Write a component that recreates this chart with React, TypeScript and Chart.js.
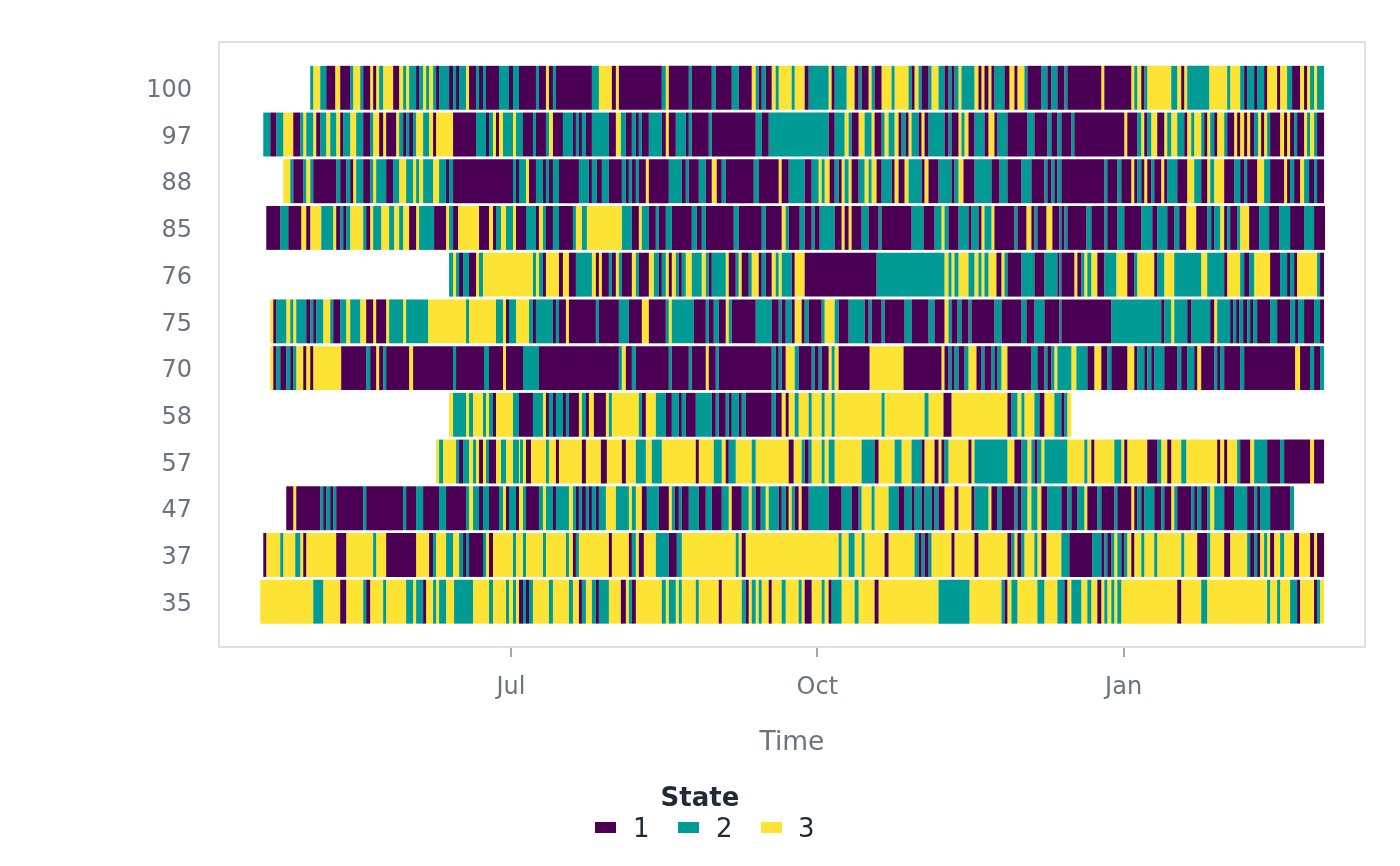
import { useEffect, useRef } from "react";
import Chart from "chart.js/auto";

// rows, top to bottom
const rowLabels = ["100", "97", "88", "85", "76", "75", "70", "58", "57", "47", "37", "35"];
const stateNames = ["1", "2", "3"];
const stateColors = ["#4B0055", "#009B95", "#FDE333"];

// x axis: days counted from 1 July
const tickDays = [0, 92, 184];
const tickLabels = ["Jul", "Oct", "Jan"];

// each run: [start day, state]; a run lasts until the next one starts
const runs100: [number, number][] = [
  [-60.3, 2], [-59.4, 3], [-57.3, 2], [-55.5, 1], [-52.8, 3], [-51.3, 1], [-48.3, 2], [-47.4, 3], [-45.3, 2], [-44.4, 1],
  [-42.3, 3], [-41.4, 1], [-40.5, 3], [-39.6, 2], [-38.4, 3], [-35.4, 1], [-33.6, 3], [-32.4, 2], [-31.5, 3], [-30.6, 2],
  [-28.5, 1], [-27.6, 2], [-26.4, 3], [-25.5, 2], [-24.6, 3], [-23.4, 2], [-22.5, 1], [-21.6, 2], [-18.6, 1], [-17.4, 2],
  [-16.5, 1], [-15.6, 2], [-13.5, 3], [-12.6, 1], [-10.5, 2], [-9.6, 1], [-8.4, 2], [-7.5, 1], [-3.6, 2], [-0.6, 1],
  [0.6, 2], [2.4, 1], [7.5, 2], [8.4, 1], [10.5, 3], [11.4, 1], [12.6, 2], [13.5, 1], [24.3, 2], [26.4, 3],
  [30.3, 1], [31.5, 3], [32.4, 1], [45.3, 2], [46.5, 3], [47.4, 1], [53.4, 2], [54.3, 1], [60.3, 2], [61.5, 1],
  [66.3, 2], [68.4, 1], [72.3, 3], [73.5, 2], [74.4, 1], [75.3, 2], [76.5, 1], [78.3, 3], [79.5, 2], [80.4, 3],
  [84.3, 2], [85.2, 3], [88.2, 1], [89.4, 2], [95.4, 3], [96.3, 1], [97.2, 2], [100.8, 3], [103.2, 1], [104.4, 2],
  [105.3, 1], [107.4, 3], [108.3, 2], [109.2, 1], [111.3, 3], [114.3, 2], [115.2, 3], [119.4, 2], [120.3, 1], [121.2, 3],
  [122.4, 2], [123.3, 1], [125.4, 2], [126.3, 3], [128.4, 2], [130.2, 1], [131.4, 2], [132.3, 1], [133.2, 2], [134.4, 3],
  [135.3, 2], [139.2, 3], [140.4, 1], [141.3, 3], [142.2, 1], [143.4, 3], [144.3, 1], [145.2, 2], [148.2, 1], [149.7, 3],
  [151.2, 1], [152.1, 3], [154.2, 2], [155.1, 1], [159.3, 2], [161.1, 1], [162.3, 2], [164.1, 1], [166.2, 2], [167.1, 1],
  [177.3, 3], [178.2, 1], [186.3, 3], [187.2, 2], [188.1, 3], [189.3, 1], [190.2, 2], [191.1, 3], [198.3, 2], [200.1, 3],
  [201.3, 1], [202.2, 3], [203.1, 2], [209.7, 3], [215.1, 2], [216.0, 3], [219.0, 2], [220.2, 1], [221.1, 2], [223.2, 1],
  [224.1, 2], [226.2, 1], [227.1, 3], [230.1, 1], [231.0, 3], [233.1, 2], [234.6, 1], [237.0, 3], [238.2, 1], [239.1, 3],
  [240.0, 2], [241.2, 3], [242.1, 2],
];

const runs97: [number, number][] = [
  [-74.4, 2], [-72.3, 1], [-70.5, 2], [-68.4, 3], [-65.4, 1], [-63.3, 2], [-62.4, 3], [-61.5, 2], [-59.4, 3], [-58.5, 1],
  [-57.3, 2], [-55.5, 3], [-54.3, 2], [-52.5, 3], [-51.3, 1], [-50.4, 2], [-48.3, 3], [-46.5, 2], [-44.4, 1], [-42.3, 2],
  [-41.4, 3], [-39.6, 1], [-38.4, 3], [-37.5, 1], [-34.5, 3], [-33.6, 2], [-32.4, 1], [-31.5, 2], [-30.6, 1], [-29.4, 2],
  [-28.5, 3], [-26.4, 2], [-24.6, 3], [-23.4, 1], [-22.5, 3], [-17.4, 1], [-10.5, 2], [-7.5, 1], [-6.6, 2], [-5.4, 3],
  [-4.5, 1], [-3.6, 3], [-2.4, 2], [0.6, 3], [1.5, 2], [3.6, 1], [6.6, 2], [7.5, 1], [10.5, 2], [11.4, 3],
  [12.6, 1], [15.6, 2], [18.6, 1], [19.5, 2], [20.4, 1], [21.3, 2], [22.5, 1], [24.3, 2], [29.4, 1], [31.5, 3],
  [33.0, 2], [34.5, 1], [36.3, 2], [37.5, 1], [38.4, 2], [39.3, 1], [41.4, 2], [45.3, 1], [46.5, 3], [47.4, 1],
  [49.5, 2], [52.5, 1], [53.4, 2], [54.3, 1], [59.4, 2], [60.3, 1], [73.5, 2], [75.3, 1], [77.4, 2], [95.4, 1],
  [97.2, 2], [100.2, 3], [101.4, 2], [102.3, 1], [104.4, 3], [106.2, 2], [108.3, 3], [109.2, 1], [111.3, 2], [112.2, 3],
  [113.4, 2], [115.2, 3], [116.4, 1], [117.3, 2], [118.5, 1], [119.4, 3], [120.3, 2], [122.4, 1], [123.3, 3], [124.2, 1],
  [125.4, 2], [130.2, 1], [131.4, 2], [132.3, 1], [134.4, 3], [135.3, 2], [136.2, 3], [137.4, 1], [139.2, 2], [142.2, 1],
  [143.4, 3], [145.2, 1], [146.1, 2], [149.1, 1], [155.1, 2], [157.2, 1], [161.1, 2], [162.3, 1], [164.1, 2], [165.3, 1],
  [168.3, 2], [169.2, 1], [184.2, 3], [185.1, 1], [188.1, 2], [189.3, 3], [190.2, 1], [191.1, 2], [192.3, 3], [194.1, 1],
  [196.2, 3], [197.1, 2], [198.3, 3], [200.1, 2], [202.2, 1], [203.1, 3], [204.3, 2], [205.2, 3], [207.3, 2], [208.2, 1],
  [209.1, 3], [210.0, 2], [211.2, 1], [212.1, 3], [214.2, 2], [215.1, 1], [217.2, 3], [218.1, 1], [219.0, 3], [220.2, 1],
  [221.1, 3], [222.0, 1], [223.2, 2], [224.4, 3], [225.3, 1], [226.2, 3], [227.1, 2], [228.0, 1], [231.0, 3], [232.2, 1],
  [233.1, 3], [234.0, 1], [235.2, 2], [236.1, 1], [238.2, 3], [239.1, 2], [240.0, 3], [241.2, 2], [242.1, 1],
];

const runs88: [number, number][] = [
  [-68.4, 3], [-66.3, 2], [-65.4, 1], [-62.4, 2], [-61.5, 3], [-60.3, 2], [-59.4, 1], [-52.5, 2], [-51.3, 1], [-49.5, 2],
  [-48.3, 1], [-47.4, 3], [-46.5, 2], [-44.4, 1], [-42.3, 2], [-41.4, 3], [-40.5, 2], [-37.5, 1], [-35.4, 2], [-33.6, 3],
  [-31.5, 2], [-29.4, 3], [-28.5, 2], [-27.6, 3], [-26.4, 2], [-23.4, 3], [-21.6, 2], [-19.5, 1], [-18.6, 2], [-17.4, 1],
  [0.6, 2], [1.5, 1], [2.4, 2], [4.5, 3], [5.4, 1], [7.5, 2], [9.6, 1], [10.5, 2], [11.4, 1], [12.6, 2],
  [14.4, 1], [20.4, 2], [23.4, 1], [24.3, 2], [25.8, 1], [27.3, 2], [29.4, 1], [33.3, 2], [34.5, 1], [35.4, 2],
  [36.3, 1], [37.5, 2], [38.4, 1], [40.5, 3], [41.4, 1], [47.4, 2], [51.3, 1], [52.5, 2], [53.4, 1], [56.4, 2],
  [58.5, 1], [60.3, 3], [61.8, 1], [63.3, 2], [64.5, 1], [72.9, 2], [74.4, 1], [80.4, 3], [81.3, 1], [83.4, 2],
  [88.2, 1], [90.3, 2], [92.4, 3], [93.3, 2], [94.2, 3], [95.7, 1], [97.2, 2], [98.4, 1], [99.3, 3], [100.2, 2],
  [101.4, 3], [102.3, 1], [104.4, 2], [106.2, 3], [107.4, 2], [108.3, 3], [109.8, 1], [111.3, 2], [114.3, 1], [115.2, 3],
  [116.4, 1], [118.2, 3], [119.4, 2], [123.3, 1], [124.2, 3], [125.4, 1], [128.4, 2], [132.3, 1], [133.2, 2], [134.4, 3],
  [135.9, 1], [139.2, 2], [144.3, 1], [146.7, 2], [149.1, 1], [153.3, 2], [156.3, 1], [160.2, 2], [161.1, 1], [162.3, 2],
  [163.2, 1], [164.1, 2], [165.3, 1], [178.2, 2], [179.1, 1], [182.1, 2], [183.3, 1], [186.3, 3], [187.2, 1], [188.1, 2],
  [189.3, 1], [190.2, 3], [191.1, 1], [192.3, 2], [193.2, 1], [195.3, 3], [196.2, 1], [197.1, 2], [200.1, 1], [203.1, 3],
  [205.2, 2], [207.3, 1], [209.1, 3], [210.0, 2], [211.2, 3], [214.2, 1], [217.2, 2], [219.0, 1], [220.2, 2], [221.1, 1],
  [224.1, 3], [226.2, 2], [228.0, 1], [232.2, 3], [233.1, 1], [234.0, 2], [235.2, 1], [237.0, 3], [238.2, 2], [239.7, 1],
  [241.2, 2], [242.1, 1],
];

const runs85: [number, number][] = [
  [-73.5, 1], [-69.3, 2], [-66.9, 1], [-63.0, 3], [-61.5, 1], [-60.3, 3], [-57.0, 2], [-53.4, 3], [-52.5, 1], [-51.3, 2],
  [-50.4, 1], [-49.5, 2], [-48.3, 3], [-44.4, 2], [-43.5, 1], [-42.3, 3], [-41.4, 2], [-39.0, 3], [-36.6, 2], [-35.1, 3],
  [-33.6, 2], [-32.4, 3], [-30.6, 1], [-28.5, 3], [-27.6, 2], [-23.1, 1], [-19.5, 3], [-18.6, 2], [-17.4, 1], [-15.9, 3],
  [-9.6, 1], [-6.6, 3], [-5.4, 1], [-4.5, 2], [-3.0, 3], [-1.5, 2], [0.6, 3], [1.5, 1], [4.5, 2], [7.5, 1],
  [8.4, 3], [9.6, 2], [10.5, 1], [12.6, 2], [14.4, 1], [18.6, 2], [19.5, 3], [21.3, 2], [22.8, 3], [33.3, 2],
  [36.3, 1], [38.4, 3], [39.3, 2], [41.4, 1], [43.5, 2], [44.4, 1], [46.5, 2], [48.3, 1], [54.3, 2], [55.8, 1],
  [57.3, 2], [58.5, 1], [66.9, 2], [68.4, 1], [75.3, 2], [76.5, 1], [81.3, 3], [82.5, 2], [83.4, 1], [86.7, 2],
  [88.2, 1], [90.3, 2], [91.2, 1], [92.7, 2], [97.2, 1], [99.3, 3], [100.2, 1], [101.4, 3], [102.3, 1], [105.3, 2],
  [107.4, 1], [110.4, 2], [111.3, 1], [120.3, 2], [123.9, 1], [127.2, 2], [129.3, 3], [130.2, 2], [131.4, 1], [134.4, 2],
  [137.4, 1], [138.3, 2], [140.4, 1], [141.3, 3], [142.2, 2], [144.3, 3], [145.2, 1], [151.2, 2], [152.1, 1], [154.8, 3],
  [156.3, 1], [157.2, 2], [158.1, 1], [160.8, 3], [162.6, 1], [164.7, 2], [165.3, 1], [166.2, 2], [167.1, 1], [172.8, 2],
  [174.3, 1], [178.2, 2], [179.1, 1], [182.1, 2], [184.2, 1], [189.3, 2], [192.6, 1], [194.1, 2], [197.1, 1], [199.2, 2],
  [200.7, 1], [202.8, 3], [205.8, 1], [209.1, 2], [210.3, 1], [211.2, 2], [213.0, 3], [214.2, 1], [215.1, 2], [216.0, 1],
  [218.1, 2], [219.0, 3], [221.7, 1], [224.7, 2], [227.7, 1], [230.7, 2], [234.0, 1], [238.2, 2], [241.2, 1],
];

const runs76: [number, number][] = [
  [-18.6, 2], [-17.4, 3], [-16.5, 2], [-15.6, 1], [-14.4, 2], [-12.6, 1], [-10.5, 3], [-9.6, 2], [-8.4, 3], [6.6, 2],
  [7.5, 3], [8.4, 2], [9.6, 1], [10.5, 3], [14.4, 1], [15.6, 3], [17.4, 1], [19.5, 2], [24.3, 3], [25.5, 1],
  [26.4, 3], [27.3, 1], [29.4, 2], [30.3, 1], [31.5, 3], [32.4, 2], [33.3, 1], [36.3, 3], [37.5, 2], [38.4, 1],
  [41.4, 3], [42.9, 2], [44.4, 1], [45.3, 2], [46.5, 3], [47.4, 1], [48.3, 3], [49.5, 2], [50.4, 1], [51.3, 2],
  [52.5, 3], [54.3, 2], [57.3, 3], [58.5, 2], [59.4, 1], [60.3, 2], [64.5, 3], [65.4, 1], [67.5, 2], [68.4, 3],
  [69.3, 1], [71.4, 2], [72.3, 3], [74.4, 1], [75.3, 2], [76.5, 1], [78.3, 3], [79.5, 2], [80.4, 3], [81.3, 2],
  [84.3, 1], [85.2, 3], [88.2, 1], [109.8, 2], [130.2, 3], [131.4, 2], [132.3, 3], [133.2, 2], [134.4, 3], [137.4, 2],
  [139.2, 3], [140.4, 2], [141.3, 3], [142.2, 2], [143.4, 3], [145.8, 1], [147.3, 3], [148.2, 2], [149.1, 1], [153.3, 2],
  [157.2, 1], [160.2, 2], [164.1, 1], [164.7, 2], [165.3, 1], [169.2, 3], [170.1, 1], [171.3, 2], [172.2, 3], [173.1, 2],
  [174.3, 3], [176.1, 1], [178.2, 2], [181.8, 3], [185.1, 1], [187.2, 2], [188.1, 3], [193.2, 1], [194.1, 2], [196.2, 3],
  [199.2, 2], [207.3, 3], [209.1, 2], [214.2, 1], [215.1, 3], [219.0, 2], [220.2, 1], [221.7, 2], [223.2, 3], [228.0, 1],
  [231.0, 2], [233.1, 1], [234.0, 2], [235.2, 1], [236.1, 3], [242.1, 2], [243.0, 1],
];

const runs75: [number, number][] = [
  [-72.3, 3], [-71.4, 1], [-70.5, 2], [-67.5, 3], [-66.3, 2], [-65.4, 3], [-64.5, 2], [-61.5, 1], [-60.3, 2], [-59.4, 1],
  [-58.5, 2], [-56.4, 3], [-54.3, 2], [-53.4, 1], [-51.3, 2], [-49.5, 3], [-48.3, 2], [-45.3, 3], [-43.5, 1], [-41.4, 3],
  [-40.5, 1], [-37.5, 3], [-36.6, 2], [-32.4, 3], [-31.5, 2], [-24.9, 3], [-13.5, 2], [-12.6, 3], [-4.5, 2], [-2.4, 3],
  [-1.5, 1], [-0.6, 2], [1.5, 3], [5.4, 2], [6.6, 1], [7.5, 2], [12.6, 1], [13.5, 2], [14.4, 1], [16.5, 3],
  [17.4, 1], [25.5, 2], [26.4, 1], [32.4, 2], [35.4, 1], [39.3, 3], [41.4, 1], [46.5, 2], [47.4, 3], [48.3, 2],
  [54.9, 1], [58.5, 2], [59.4, 1], [60.9, 2], [62.4, 1], [64.5, 3], [65.4, 2], [66.3, 1], [73.5, 2], [78.3, 1],
  [80.4, 2], [81.3, 1], [82.5, 2], [84.3, 1], [85.2, 3], [87.3, 1], [88.2, 2], [89.4, 1], [93.3, 2], [94.2, 3],
  [97.2, 2], [98.4, 1], [101.4, 2], [106.2, 1], [107.4, 2], [108.3, 1], [111.3, 2], [112.2, 1], [118.2, 2], [120.3, 1],
  [125.4, 2], [127.2, 1], [130.2, 3], [131.4, 2], [132.3, 1], [134.1, 2], [135.3, 1], [137.4, 2], [138.3, 1], [145.2, 2],
  [147.3, 1], [153.3, 2], [154.8, 1], [157.2, 2], [160.2, 1], [164.7, 2], [165.3, 1], [180.3, 2], [195.3, 1], [196.2, 2],
  [198.3, 3], [199.2, 2], [203.1, 1], [204.3, 2], [210.0, 1], [211.2, 3], [212.1, 2], [216.0, 1], [216.9, 2], [217.8, 1],
  [218.7, 2], [219.9, 1], [221.1, 2], [222.0, 1], [222.9, 2], [224.1, 1], [228.0, 2], [230.1, 1], [234.0, 2], [235.5, 1],
  [236.4, 2], [238.2, 1], [241.2, 2], [243.0, 1],
];

const runs70: [number, number][] = [
  [-72.3, 3], [-71.4, 1], [-70.5, 2], [-69.3, 1], [-67.5, 2], [-66.3, 1], [-65.4, 2], [-64.5, 3], [-62.4, 1], [-61.5, 3],
  [-60.3, 1], [-59.4, 3], [-51.0, 1], [-43.5, 2], [-42.3, 1], [-40.5, 3], [-39.6, 1], [-38.4, 2], [-37.5, 1], [-30.6, 3],
  [-29.4, 1], [-17.4, 2], [-16.5, 1], [-8.1, 2], [-6.6, 1], [-2.4, 3], [-1.5, 1], [3.6, 2], [8.4, 1], [32.4, 2],
  [33.3, 3], [34.5, 1], [36.3, 2], [37.5, 1], [47.4, 2], [48.3, 1], [53.4, 2], [54.3, 1], [58.5, 3], [59.4, 1],
  [61.5, 2], [62.4, 1], [78.3, 2], [79.5, 1], [80.4, 2], [81.3, 1], [82.5, 3], [85.2, 2], [86.4, 1], [90.3, 2],
  [91.2, 1], [92.4, 2], [93.3, 1], [95.4, 3], [96.3, 2], [97.2, 3], [98.4, 1], [107.7, 3], [117.9, 1], [129.3, 3],
  [130.2, 1], [131.4, 2], [132.3, 1], [133.2, 2], [134.4, 1], [136.2, 2], [137.4, 3], [139.8, 1], [141.3, 2], [142.2, 1],
  [144.3, 2], [145.2, 1], [146.1, 2], [147.3, 3], [149.1, 1], [156.3, 2], [158.1, 1], [160.2, 2], [161.1, 1], [162.3, 2],
  [163.2, 3], [164.1, 2], [168.3, 3], [169.8, 2], [173.1, 1], [175.2, 3], [177.3, 1], [179.1, 2], [180.3, 1], [185.1, 3],
  [187.2, 1], [188.1, 2], [190.2, 1], [191.1, 2], [192.3, 1], [193.2, 2], [196.2, 1], [200.1, 2], [201.3, 1], [203.1, 2],
  [205.2, 1], [206.1, 3], [207.3, 1], [211.2, 2], [212.1, 1], [213.0, 2], [214.2, 1], [219.0, 2], [220.2, 1], [235.5, 3],
  [237.0, 1], [240.0, 2], [241.2, 1], [243.0, 2],
];

const runs58: [number, number][] = [
  [-18.6, 3], [-17.4, 2], [-13.5, 3], [-12.6, 2], [-11.4, 3], [-8.4, 2], [-7.5, 3], [-6.6, 2], [-5.4, 1], [-4.5, 3],
  [0.6, 2], [2.4, 1], [6.6, 2], [9.6, 3], [10.5, 1], [11.4, 2], [12.6, 1], [13.5, 2], [15.6, 1], [16.5, 2],
  [17.4, 1], [20.4, 3], [21.3, 2], [22.5, 1], [23.4, 3], [24.9, 1], [28.5, 3], [29.4, 2], [30.3, 3], [38.4, 2],
  [39.3, 1], [40.5, 3], [43.5, 2], [46.5, 1], [48.3, 2], [50.4, 1], [51.3, 2], [52.5, 1], [55.5, 2], [60.3, 1],
  [61.5, 2], [62.4, 1], [64.5, 2], [65.4, 1], [66.3, 2], [68.4, 1], [69.3, 2], [70.5, 1], [78.3, 2], [79.5, 1],
  [81.3, 3], [82.5, 1], [83.4, 3], [85.2, 2], [86.4, 3], [89.4, 2], [90.3, 3], [93.3, 2], [94.2, 3], [96.3, 2],
  [97.2, 3], [111.3, 2], [112.2, 3], [124.2, 2], [125.4, 3], [129.9, 1], [132.3, 3], [149.1, 1], [150.3, 2], [152.1, 3],
  [153.3, 2], [154.2, 3], [157.2, 2], [158.7, 1], [160.2, 3], [163.2, 2], [165.3, 1], [166.2, 2], [167.1, 3],
];

const runs57: [number, number][] = [
  [-22.5, 3], [-21.6, 2], [-20.4, 3], [-16.5, 2], [-15.6, 1], [-14.4, 2], [-12.6, 3], [-11.4, 2], [-10.5, 3], [-9.6, 1],
  [-8.4, 3], [-7.5, 2], [-6.6, 1], [-4.5, 3], [-3.0, 2], [-1.5, 3], [0.6, 2], [2.4, 3], [2.7, 2], [3.6, 3],
  [4.5, 1], [6.0, 3], [10.5, 2], [11.4, 3], [13.5, 1], [14.4, 3], [21.3, 1], [22.5, 3], [27.0, 1], [28.8, 3],
  [33.3, 1], [34.5, 3], [37.5, 2], [40.5, 3], [42.3, 2], [45.3, 3], [55.5, 1], [56.4, 3], [60.9, 2], [63.3, 3],
  [64.5, 1], [65.4, 2], [67.5, 3], [72.3, 2], [73.5, 3], [83.4, 1], [84.9, 3], [87.3, 2], [88.2, 1], [89.4, 2],
  [90.3, 3], [93.3, 2], [94.2, 3], [95.4, 2], [97.2, 3], [105.3, 2], [109.2, 1], [110.4, 3], [115.2, 2], [117.3, 3],
  [120.3, 2], [123.3, 1], [124.2, 3], [127.2, 1], [128.4, 3], [129.3, 1], [130.2, 2], [131.4, 3], [137.4, 1], [138.3, 3],
  [139.2, 2], [149.1, 3], [151.2, 1], [153.3, 2], [155.1, 3], [156.3, 2], [157.2, 1], [158.1, 2], [159.3, 3], [160.2, 2],
  [167.1, 3], [172.2, 2], [173.1, 3], [174.3, 1], [175.2, 3], [181.2, 2], [183.3, 3], [184.2, 1], [185.1, 3], [191.1, 1],
  [194.1, 2], [195.3, 3], [197.1, 1], [198.3, 3], [201.3, 2], [202.8, 3], [212.1, 1], [213.0, 3], [214.2, 1], [215.1, 3],
  [218.1, 2], [219.0, 1], [222.0, 3], [223.2, 2], [227.1, 1], [231.0, 2], [232.2, 1], [240.0, 3], [241.2, 1],
];

const runs47: [number, number][] = [
  [-67.5, 1], [-65.4, 3], [-64.5, 1], [-57.3, 2], [-56.4, 1], [-55.5, 2], [-54.3, 1], [-53.4, 2], [-52.5, 1], [-44.4, 2],
  [-43.5, 1], [-32.4, 2], [-31.5, 1], [-28.5, 2], [-26.4, 1], [-21.6, 2], [-19.5, 1], [-13.5, 2], [-12.6, 3], [-11.4, 2],
  [-9.6, 1], [-8.4, 2], [-6.6, 1], [-3.6, 2], [-2.4, 3], [-1.5, 1], [-0.6, 2], [1.5, 1], [2.4, 3], [3.6, 2],
  [4.5, 1], [8.4, 2], [9.6, 3], [10.5, 2], [12.6, 1], [13.5, 2], [17.4, 3], [18.6, 2], [19.5, 1], [20.4, 2],
  [21.3, 1], [22.5, 2], [23.4, 1], [24.3, 2], [25.5, 1], [26.4, 2], [28.5, 3], [31.5, 2], [35.4, 3], [36.3, 2],
  [37.5, 3], [39.3, 1], [40.8, 2], [44.4, 1], [47.4, 3], [48.3, 2], [49.2, 1], [50.4, 2], [51.3, 1], [53.4, 2],
  [56.4, 1], [58.5, 2], [60.3, 1], [63.3, 2], [65.4, 3], [66.3, 1], [69.3, 2], [71.4, 3], [72.3, 2], [73.5, 1],
  [75.0, 2], [76.5, 3], [77.4, 2], [80.4, 1], [81.3, 2], [82.5, 1], [83.4, 3], [84.3, 2], [85.2, 1], [86.4, 3],
  [87.3, 1], [89.4, 2], [95.4, 1], [99.3, 2], [102.3, 1], [104.4, 2], [105.3, 3], [108.3, 2], [109.2, 3], [113.4, 2],
  [116.4, 1], [118.2, 2], [120.3, 1], [121.2, 2], [123.3, 1], [124.2, 2], [126.3, 1], [127.2, 2], [128.4, 1], [130.2, 3],
  [133.2, 1], [134.4, 3], [138.3, 1], [139.2, 2], [143.4, 3], [144.3, 1], [146.1, 2], [147.3, 1], [151.2, 2], [152.1, 1],
  [153.3, 2], [155.1, 3], [156.3, 2], [158.1, 3], [159.3, 1], [161.1, 2], [165.3, 1], [167.1, 2], [168.3, 1], [170.1, 2],
  [172.2, 3], [173.1, 1], [176.1, 2], [177.3, 1], [181.2, 2], [182.1, 1], [186.3, 3], [187.2, 1], [188.1, 2], [189.3, 1],
  [190.2, 2], [193.2, 1], [195.3, 2], [196.2, 1], [198.3, 3], [199.2, 2], [200.1, 1], [204.3, 2], [205.2, 1], [206.1, 2],
  [207.3, 1], [209.1, 2], [210.0, 3], [211.2, 2], [214.2, 1], [217.2, 2], [221.1, 1], [223.2, 2], [224.1, 1], [225.0, 2],
  [228.0, 1], [234.0, 2],
];

const runs37: [number, number][] = [
  [-74.4, 1], [-73.5, 3], [-69.3, 2], [-68.4, 3], [-64.8, 2], [-63.3, 3], [-62.4, 1], [-61.5, 3], [-52.5, 1], [-49.5, 3],
  [-41.4, 2], [-40.5, 3], [-37.5, 1], [-28.5, 3], [-24.6, 1], [-23.4, 2], [-22.5, 3], [-19.5, 2], [-17.4, 3], [-15.6, 2],
  [-14.4, 1], [-13.5, 2], [-12.6, 1], [-8.4, 2], [-7.5, 3], [-6.6, 1], [-5.4, 3], [0.6, 2], [1.5, 3], [3.6, 2],
  [4.5, 3], [9.6, 2], [10.5, 3], [16.5, 2], [17.4, 3], [18.6, 1], [19.5, 2], [20.4, 3], [29.4, 1], [30.3, 3],
  [35.4, 1], [36.3, 2], [37.5, 3], [38.4, 1], [39.9, 3], [43.5, 2], [47.4, 1], [49.8, 2], [51.3, 3], [67.5, 2],
  [68.4, 3], [69.3, 1], [70.5, 3], [98.4, 2], [99.3, 3], [101.4, 2], [103.2, 3], [105.3, 2], [106.2, 3], [112.2, 1],
  [113.4, 3], [121.2, 2], [122.4, 1], [123.3, 2], [124.2, 1], [125.4, 2], [126.3, 3], [132.3, 1], [133.2, 3], [139.2, 1],
  [140.4, 3], [149.1, 1], [150.3, 2], [151.2, 3], [152.1, 1], [153.3, 2], [154.2, 3], [157.2, 2], [158.1, 3], [159.3, 1],
  [160.8, 3], [165.3, 2], [167.7, 1], [174.6, 2], [177.3, 1], [178.2, 2], [179.1, 1], [180.3, 2], [181.2, 3], [182.1, 2],
  [183.3, 1], [184.2, 2], [185.1, 3], [186.3, 1], [187.2, 3], [189.3, 2], [190.2, 3], [193.2, 2], [194.1, 3], [201.3, 2],
  [202.2, 3], [206.1, 1], [209.1, 2], [210.0, 3], [214.2, 1], [216.0, 3], [221.1, 2], [222.0, 1], [223.2, 2], [224.1, 1],
  [225.0, 3], [226.2, 2], [227.1, 3], [228.0, 1], [229.2, 3], [231.0, 2], [232.2, 3], [235.2, 1], [236.7, 3], [240.0, 1],
  [241.2, 3], [242.1, 1],
];

const runs35: [number, number][] = [
  [-75.3, 3], [-59.4, 2], [-56.4, 3], [-51.3, 1], [-49.5, 3], [-44.4, 2], [-43.5, 1], [-42.3, 3], [-38.4, 2], [-37.5, 3],
  [-31.5, 2], [-29.4, 3], [-28.5, 2], [-26.4, 1], [-25.5, 3], [-23.4, 2], [-22.5, 3], [-21.6, 2], [-19.5, 3], [-17.1, 2],
  [-11.4, 3], [-6.6, 2], [-5.4, 3], [-1.5, 2], [-0.6, 3], [0.6, 2], [1.5, 3], [2.4, 1], [3.6, 2], [4.5, 1],
  [5.4, 2], [6.6, 3], [11.4, 2], [12.6, 3], [17.4, 2], [18.6, 3], [20.4, 1], [21.3, 2], [22.5, 3], [24.3, 2],
  [25.5, 1], [26.4, 2], [29.4, 3], [33.0, 1], [34.5, 3], [35.4, 2], [36.3, 1], [37.5, 3], [45.3, 2], [46.5, 3],
  [47.4, 2], [49.5, 3], [50.4, 2], [51.3, 3], [55.5, 2], [56.4, 3], [62.4, 1], [63.3, 3], [69.3, 2], [70.5, 1],
  [71.4, 3], [72.3, 2], [73.5, 3], [74.4, 2], [75.3, 3], [77.4, 1], [78.3, 3], [81.3, 2], [82.5, 3], [86.4, 2],
  [87.3, 3], [88.2, 1], [90.3, 3], [93.3, 2], [94.2, 3], [95.4, 1], [96.3, 2], [99.3, 3], [103.2, 2], [104.4, 3],
  [109.2, 1], [110.4, 3], [128.4, 2], [137.7, 3], [147.3, 2], [148.2, 1], [149.1, 3], [150.3, 2], [152.1, 3], [158.1, 2],
  [160.2, 3], [164.1, 2], [166.2, 1], [167.1, 3], [168.3, 2], [171.3, 3], [173.1, 2], [174.3, 3], [176.1, 1], [177.3, 3],
  [178.2, 2], [179.1, 3], [180.3, 2], [181.2, 3], [182.1, 2], [183.3, 3], [200.1, 1], [201.3, 3], [207.3, 2], [209.1, 3],
  [227.1, 2], [228.0, 3], [230.1, 2], [231.0, 3], [234.0, 2], [236.1, 1], [237.0, 3], [241.2, 1], [242.1, 2], [243.0, 3],
];

const rowRuns = [runs100, runs97, runs88, runs85, runs76, runs75, runs70, runs58, runs57, runs47, runs37, runs35];
// last observed day of each row
const rowEnds = [244.2, 244.2, 244.2, 244.5, 244.2, 244.2, 244.2, 168.3, 244.2, 235.2, 244.2, 244.2];

const FONT = "'DejaVu Sans', 'Noto Sans', sans-serif";
const TICK_COLOR = "#6b7280";
const DARK = "#1f2937";

function segmentsFor(state: number) {
  const out: { x: [number, number]; y: number }[] = [];
  rowRuns.forEach((runs, row) => {
    runs.forEach(([start, s], i) => {
      if (s !== state) return;
      const end = i + 1 < runs.length ? runs[i + 1][0] : rowEnds[row];
      out.push({ x: [start, end], y: row });
    });
  });
  return out;
}

const panelBorder = {
  id: "panelBorder",
  beforeDatasetsDraw(chart: any) {
    const { ctx, chartArea } = chart;
    const { left, top, right, bottom } = chartArea;
    ctx.save();
    ctx.strokeStyle = "#dde0e4";
    ctx.lineWidth = 2;
    ctx.strokeRect(left, top, right - left, bottom - top);
    ctx.restore();
  },
};

export default function App() {
  const canvasRef = useRef<HTMLCanvasElement | null>(null);
  const chartRef = useRef<Chart | null>(null);

  useEffect(() => {
    if (!canvasRef.current) return;
    const ctx = canvasRef.current.getContext("2d");
    if (!ctx) return;
    if (chartRef.current) chartRef.current.destroy();

    chartRef.current = new Chart(ctx, {
      type: "bar",
      data: {
        datasets: stateNames.map((name, k) => ({
          label: name,
          data: segmentsFor(k + 1),
          backgroundColor: stateColors[k],
          borderWidth: 0,
          borderSkipped: false,
          grouped: false,
          categoryPercentage: 1,
          barPercentage: 0.94,
        })),
      } as any,
      options: {
        indexAxis: "y",
        animation: false,
        responsive: true,
        maintainAspectRatio: false,
        events: [],
        layout: { padding: { left: 0, right: 35, top: 42, bottom: 107 } },
        plugins: {
          legend: { display: false },
          tooltip: { enabled: false },
        },
        scales: {
          x: {
            type: "linear",
            min: -87.7,
            max: 256.5,
            afterBuildTicks: (scale: any) => {
              scale.ticks = tickDays.map((v) => ({ value: v }));
            },
            afterFit: (scale: any) => {
              scale.height = 112;
              scale.paddingLeft = 0;
              scale.paddingRight = 0;
            },
            ticks: {
              autoSkip: false,
              maxRotation: 0,
              padding: 16,
              color: TICK_COLOR,
              font: { family: FONT, size: 24 },
              callback: (_v: any, i: number) => tickLabels[i],
            },
            grid: {
              display: true,
              drawOnChartArea: false,
              drawTicks: true,
              tickLength: 10,
              color: "#a3a7ad",
              lineWidth: 2,
            },
            border: { display: false },
            title: {
              display: true,
              text: "Time",
              color: TICK_COLOR,
              padding: 0,
              font: { family: FONT, size: 26.5 },
            },
          },
          y: {
            type: "linear",
            reverse: true,
            offset: false,
            min: -0.98,
            max: 11.97,
            afterBuildTicks: (scale: any) => {
              scale.ticks = rowLabels.map((_l, i) => ({ value: i }));
            },
            afterFit: (scale: any) => {
              scale.width = 219;
              scale.paddingTop = 0;
              scale.paddingBottom = 0;
            },
            ticks: {
              autoSkip: false,
              padding: 27,
              labelOffset: 3,
              color: TICK_COLOR,
              font: { family: FONT, size: 24 },
              callback: (_v: any, i: number) => rowLabels[i],
            },
            grid: { display: false, drawTicks: false, tickLength: 0 },
            border: { display: false },
          },
        },
      } as any,
      plugins: [panelBorder],
    });

    return () => {
      if (chartRef.current) {
        chartRef.current.destroy();
        chartRef.current = null;
      }
    };
  }, []);

  const keyLeft = [595, 678, 761];
  const labelLeft = [633, 716, 798];

  return (
    <div style={{ position: "fixed", left: 0, top: 0, width: 1400, height: 866, background: "#fff" }}>
      <canvas ref={canvasRef} style={{ width: "100%", height: "100%" }} />
      <div
        style={{
          position: "absolute",
          left: 600,
          width: 200,
          top: 784,
          textAlign: "center",
          fontFamily: FONT,
          fontWeight: "bold",
          fontSize: 26,
          lineHeight: "26px",
          color: DARK,
        }}
      >
        State
      </div>
      {stateNames.map((name, k) => (
        <div key={name}>
          <div
            style={{
              position: "absolute",
              left: keyLeft[k],
              top: 822,
              width: 21,
              height: 11,
              background: stateColors[k],
            }}
          />
          <span
            style={{
              position: "absolute",
              left: labelLeft[k],
              top: 815,
              fontFamily: FONT,
              fontSize: 26,
              lineHeight: "26px",
              color: DARK,
            }}
          >
            {name}
          </span>
        </div>
      ))}
    </div>
  );
}
